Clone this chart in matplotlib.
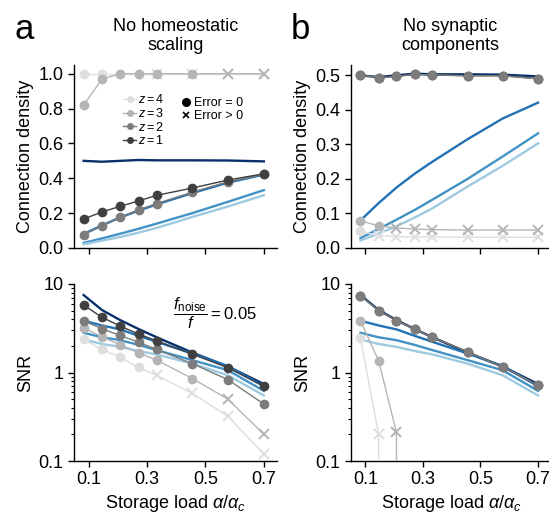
import matplotlib
matplotlib.use("Agg")
import matplotlib.pyplot as plt
from matplotlib.lines import Line2D

plt.rcParams['font.family'] = ['Liberation Sans', 'DejaVu Sans']
plt.rcParams['mathtext.fontset'] = 'custom'
plt.rcParams['mathtext.rm'] = 'Liberation Sans'
plt.rcParams['mathtext.it'] = 'Liberation Sans:italic'
plt.rcParams['axes.linewidth'] = 1.0

# storage load values
load = [0.083, 0.146, 0.208, 0.271, 0.333, 0.455, 0.577, 0.7]
xticks = [0.1, 0.3, 0.5, 0.7]

# full model (blue curves), same in both panels
blue_colors = ['#08306b', '#2171b5', '#4292c6', '#9ecae1']
full_density = [
    [0.50, 0.495, 0.50, 0.505, 0.503, 0.503, 0.502, 0.497],
    [0.080, 0.130, 0.175, 0.215, 0.250, 0.315, 0.375, 0.421],
    [0.029, 0.055, 0.082, 0.110, 0.140, 0.200, 0.265, 0.332],
    [0.022, 0.042, 0.063, 0.088, 0.115, 0.178, 0.238, 0.303],
]
full_snr = [
    [7.5, 5.08, 3.91, 3.1, 2.5, 1.68, 1.17, 0.74],
    [3.84, 3.4, 3.07, 2.6, 2.22, 1.64, 1.18, 0.70],
    [2.81, 2.5, 2.32, 2.05, 1.79, 1.38, 1.06, 0.62],
    [2.36, 2.1, 1.95, 1.75, 1.6, 1.26, 0.93, 0.55],
]

z_values = [1, 2, 3, 4]
grey_colors = ['#404040', '#7c7c7c', '#b5b5b5', '#dedede']

# no homeostatic scaling
a_density = [
    [0.166, 0.207, 0.239, 0.270, 0.302, 0.344, 0.390, 0.426],
    [0.076, 0.128, 0.176, 0.218, 0.255, 0.320, 0.380, 0.422],
    [0.82, 0.97, 1.0, 1.0, 1.0, 1.0, 1.0, 1.0],
    [1.0, 1.0, 1.0, 1.0, 1.0, 1.0, 1.0, 1.0],
]
a_snr = [
    [5.78, 4.2, 3.35, 2.72, 2.28, 1.61, 1.13, 0.70],
    [3.85, 3.12, 2.62, 2.2, 1.82, 1.26, 0.83, 0.44],
    [3.2, 2.53, 2.06, 1.67, 1.38, 0.855, 0.50, 0.20],
    [2.36, 1.82, 1.48, 1.14, 0.93, 0.58, 0.32, 0.12],
]
a_ok = [
    [1, 1, 1, 1, 1, 1, 1, 1],
    [1, 1, 1, 1, 1, 1, 1, 1],
    [1, 1, 1, 1, 1, 1, 0, 0],
    [1, 1, 1, 1, 0, 0, 0, 0],
]

# no synaptic components
b_density = [
    [0.502, 0.493, 0.497, 0.503, 0.501, 0.499, 0.499, 0.490],
    [0.502, 0.493, 0.497, 0.503, 0.501, 0.499, 0.499, 0.490],
    [0.079, 0.064, 0.058, 0.055, 0.053, 0.052, 0.052, 0.052],
    [0.048, 0.036, 0.033, 0.032, 0.032, 0.031, 0.031, 0.031],
]
b_snr = [
    [7.4, 5.0, 3.85, 3.1, 2.5, 1.72, 1.15, 0.72],
    [7.4, 5.0, 3.85, 3.1, 2.5, 1.72, 1.15, 0.72],
    [3.85, 1.36, 0.21, 0, 0, 0, 0, 0],
    [2.43, 0.20, 0, 0, 0, 0, 0, 0],
]
b_ok = [
    [1, 1, 1, 1, 1, 1, 1, 1],
    [1, 1, 1, 1, 1, 1, 1, 1],
    [1, 1, 0, 0, 0, 0, 0, 0],
    [1, 0, 0, 0, 0, 0, 0, 0],
]

fig = plt.figure(figsize=(5.49, 5.16), dpi=100)
W, H = 549.0, 516.0

def axes_at(left, top, right, bottom):
    return fig.add_axes([left / W, 1 - bottom / H, (right - left) / W, (bottom - top) / H])

ax_a1 = axes_at(74, 65, 277, 248)
ax_a2 = axes_at(74, 284, 277, 461)
ax_b1 = axes_at(351, 65, 551, 248)
ax_b2 = axes_at(351, 284, 551, 461)

def draw_full(ax, curves):
    for c, ys in zip(blue_colors, curves):
        ax.plot(load, ys, color=c, lw=1.7, zorder=2)

def draw_model(ax, curves, ok, order):
    for i in order:
        ys = curves[i]
        col = grey_colors[i]
        ax.plot(load, ys, color=col, lw=1.0, zorder=3)
        xo = [x for x, k in zip(load, ok[i]) if k]
        yo = [y for y, k in zip(ys, ok[i]) if k]
        xe = [x for x, k in zip(load, ok[i]) if not k]
        ye = [y for y, k in zip(ys, ok[i]) if not k]
        ax.plot(xo, yo, 'o', color=col, ms=7, mec='none', zorder=4)
        ax.plot(xe, ye, 'x', color=col, ms=6.5, mew=1.4, zorder=4)

def style(ax):
    for s in ['top', 'right']:
        ax.spines[s].set_visible(False)
    ax.tick_params(which='major', direction='out', length=4.5, width=1.0, labelsize=13, pad=3)
    ax.tick_params(which='minor', direction='out', length=2.5, width=0.8)
    ax.set_xlim(0.05, 0.745)
    ax.set_xticks(xticks)

# panel a
draw_full(ax_a1, full_density)
draw_model(ax_a1, a_density, a_ok, [3, 2, 1, 0])
ax_a1.set_ylim(0, 1.05)
ax_a1.set_yticks([0, 0.2, 0.4, 0.6, 0.8, 1.0])
ax_a1.set_yticklabels(['0.0', '0.2', '0.4', '0.6', '0.8', '1.0'])

draw_full(ax_a2, full_snr)
draw_model(ax_a2, a_snr, a_ok, [3, 2, 1, 0])

# panel b
draw_full(ax_b1, full_density)
draw_model(ax_b1, b_density, b_ok, [3, 2, 0, 1])
ax_b1.set_ylim(0, 0.53)
ax_b1.set_yticks([0, 0.1, 0.2, 0.3, 0.4, 0.5])
ax_b1.set_yticklabels(['0.0', '0.1', '0.2', '0.3', '0.4', '0.5'])

draw_full(ax_b2, full_snr)
draw_model(ax_b2, b_snr, b_ok, [3, 2, 0, 1])

for ax in [ax_a2, ax_b2]:
    ax.set_yscale('log')
    ax.set_ylim(0.1, 10)
    ax.set_yticks([0.1, 1, 10])
    ax.set_yticklabels(['0.1', '1', '10'])
    ax.set_ylabel('SNR', fontsize=13, labelpad=3)
    ax.set_xlabel(r'Storage load $\alpha/\alpha_c$', fontsize=13, labelpad=3)

for ax in [ax_a1, ax_a2, ax_b1, ax_b2]:
    style(ax)
for ax in [ax_a1, ax_b1]:
    ax.set_xticklabels([])
    ax.set_ylabel('Connection density', fontsize=13, labelpad=3)
for ax in [ax_a2, ax_b2]:
    ax.set_xticklabels(['0.1', '0.3', '0.5', '0.7'])

ax_a1.set_title('No homeostatic\nscaling', fontsize=13, pad=11, linespacing=1.1)
ax_b1.set_title('No synaptic\ncomponents', fontsize=13, pad=11, linespacing=1.1)
ax_b1.title.set_x((450 - 351) / 200)

fig.text(15 / W, 1 - 39 / H, 'a', fontsize=25, va='baseline')
fig.text(291 / W, 1 - 39 / H, 'b', fontsize=25, va='baseline')

# legends
z_handles = [Line2D([], [], color=grey_colors[i], marker='o', ms=5, mec='none', lw=1.0)
             for i in [3, 2, 1, 0]]
z_labels = ['$z = %d$' % z_values[i] for i in [3, 2, 1, 0]]
leg1 = ax_a1.legend(z_handles, z_labels, loc='upper left', bbox_to_anchor=(0.24, 0.845),
                    frameon=False, fontsize=9, handlelength=1.1, handletextpad=0.15,
                    labelspacing=0.05, borderpad=0, borderaxespad=0)
ax_a1.add_artist(leg1)
err_handles = [Line2D([], [], color='black', marker='o', ms=5.5, ls='none'),
               Line2D([], [], color='black', marker='x', ms=5, mew=1.2, ls='none')]
ax_a1.legend(err_handles, ['Error = 0', 'Error > 0'], loc='upper left',
             bbox_to_anchor=(0.525, 0.825), frameon=False, fontsize=9,
             handlelength=0.8, handletextpad=0.3, labelspacing=0.1,
             borderpad=0, borderaxespad=0)

ax_a2.text(0.695, 0.836, r'$\dfrac{f_{\mathrm{noise}}}{f} = 0.05$', transform=ax_a2.transAxes,
           fontsize=12, ha='center', va='center')

fig.savefig('out.png', dpi=100)
